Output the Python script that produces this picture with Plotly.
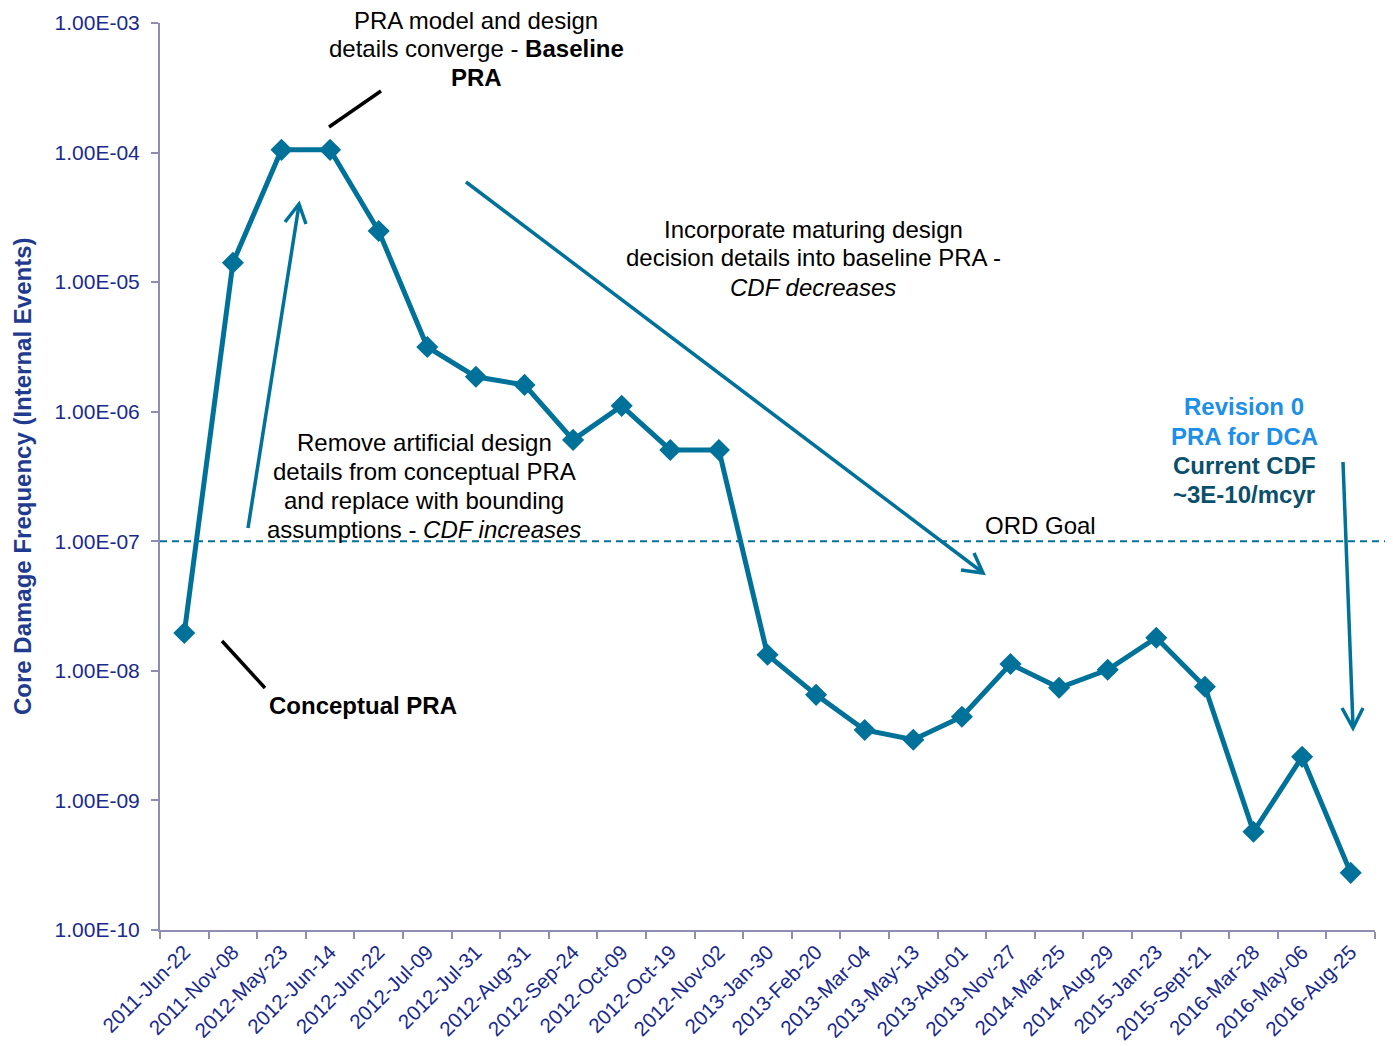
import plotly.graph_objects as go
import math

dates = ["2011-Jun-22", "2011-Nov-08", "2012-May-23", "2012-Jun-14", "2012-Jun-22",
         "2012-Jul-09", "2012-Jul-31", "2012-Aug-31", "2012-Sep-24", "2012-Oct-09",
         "2012-Oct-19", "2012-Nov-02", "2013-Jan-30", "2013-Feb-20", "2013-Mar-04",
         "2013-May-13", "2013-Aug-01", "2013-Nov-27", "2014-Mar-25", "2014-Aug-29",
         "2015-Jan-23", "2015-Sept-21", "2016-Mar-28", "2016-May-06", "2016-Aug-25"]
cdf = [1.96e-8, 1.41e-5, 1.05e-4, 1.05e-4, 2.48e-5,
       3.16e-6, 1.86e-6, 1.61e-6, 6.06e-7, 1.11e-6,
       5.07e-7, 5.07e-7, 1.33e-8, 6.53e-9, 3.5e-9,
       2.94e-9, 4.42e-9, 1.13e-8, 7.4e-9, 1.02e-8,
       1.8e-8, 7.53e-9, 5.73e-10, 2.17e-9, 2.76e-10]
ytick_vals = [1e-10, 1e-9, 1e-8, 1e-7, 1e-6, 1e-5, 1e-4, 1e-3]
ytick_text = ["1.00E-10", "1.00E-09", "1.00E-08", "1.00E-07",
              "1.00E-06", "1.00E-05", "1.00E-04", "1.00E-03"]
ord_goal = 1e-7

# page has an 8px body margin; figure is sized to fit exactly
OFF = 8
W, H = 1393 - OFF, 1046 - OFF
PL, PR, PT, PB = 160, 1375, 23, 930          # plot area in page pixels
ML, MT = PL - OFF, PT - OFF
MR, MB = W - (PR - OFF), H - (PB - OFF)
PW, PH = PR - PL, PB - PT

def px(x):
    return (x - PL) / PW

def py(y):
    return (PB - y) / PH

TEAL = "#00729A"
NAVY = "#1A2A8C"
AXC = "#8E8EB4"
FONT = "Liberation Sans, Arial, sans-serif"

fig = go.Figure()
fig.add_trace(go.Scatter(
    x=dates, y=cdf, mode="lines+markers",
    line=dict(color=TEAL, width=5),
    marker=dict(symbol="diamond", size=17, color=TEAL),
    showlegend=False, hoverinfo="x+y"))

shapes = []
# ORD goal dashed line
gy = (math.log10(ord_goal) + 10) / 7
shapes.append(dict(type="line", xref="paper", yref="paper", x0=0, x1=px(1392),
                   y0=gy, y1=gy, line=dict(color=TEAL, width=2, dash="7px,5px")))

def seg(x0, y0, x1, y1, color, width):
    shapes.append(dict(type="line", xref="paper", yref="paper",
                       x0=px(x0), y0=py(y0), x1=px(x1), y1=py(y1),
                       line=dict(color=color, width=width)))

def vhead(a, tip, b, color, width):
    path = "M {} {} L {} {} L {} {}".format(px(a[0]), py(a[1]), px(tip[0]), py(tip[1]),
                                            px(b[0]), py(b[1]))
    shapes.append(dict(type="path", xref="paper", yref="paper", path=path,
                       line=dict(color=color, width=width)))

# up arrow
seg(248, 528, 299, 205, TEAL, 3.5)
vhead((285, 222), (299, 204), (306, 224), TEAL, 3.5)
# diagonal arrow
seg(466, 182, 982, 572, TEAL, 3.5)
vhead((961, 570), (983, 573), (974, 553), TEAL, 3.5)
# right vertical arrow
seg(1343, 462, 1353, 726, TEAL, 3.5)
vhead((1342, 708), (1353, 728), (1363, 708), TEAL, 3.5)
# black leader lines
seg(329, 127, 381, 91, "black", 3.5)
seg(222, 641, 265, 688, "black", 3.5)

ann = []
def text(x, y, t, size=24, color="black", **kw):
    ann.append(dict(xref="paper", yref="paper", x=px(x), y=py(y), text=t,
                    showarrow=False, xanchor="center", yanchor="middle",
                    font=dict(family=FONT, size=size, color=color), align="center", **kw))

def block(x, y0, lines, step=29, **kw):
    for i, t in enumerate(lines):
        text(x, y0 + i * step, t, **kw)

block(476, 20, ["PRA model and design", "details converge - <b>Baseline</b>", "<b>PRA</b>"],
      step=28.5)
block(813, 229, ["Incorporate maturing design", "decision details into baseline PRA -",
                 "<i>CDF decreases</i>"])
block(424, 442, ["Remove artificial design", "details from conceptual PRA",
                 "and replace with bounding", "assumptions - <i>CDF increases</i>"])
text(363, 705, "<b>Conceptual PRA</b>")
text(1040, 525, "ORD Goal")
block(1244, 407, ["<b>Revision 0</b>", "<b>PRA for DCA</b>"], color="#1E8FE6")
block(1244, 465, ["<b>Current CDF</b>", "<b>~3E-10/mcyr</b>"], color="#0B4F6C")
text(22, 477, "<b>Core Damage Frequency (Internal Events)</b>", size=24, color="#1F3B8F",
     textangle=-90)

fig.update_layout(
    width=W, height=H,
    margin=dict(l=ML, r=MR, t=MT, b=MB, autoexpand=False),
    plot_bgcolor="white", paper_bgcolor="white",
    font=dict(family=FONT, color=NAVY),
    shapes=shapes, annotations=ann,
    xaxis=dict(type="category", range=[-0.5, len(dates) - 0.5], tickangle=-45,
               tickson="boundaries", ticks="outside", ticklen=7, tickwidth=2,
               tickcolor=AXC, showline=True, linecolor=AXC, linewidth=2,
               showgrid=False, zeroline=False, tickfont=dict(size=20.5, color=NAVY),
               automargin=False),
    yaxis=dict(type="log", range=[-10, -3], tickvals=ytick_vals, ticktext=ytick_text,
               ticks="outside", ticklen=7, tickwidth=2, tickcolor=AXC,
               showline=True, linecolor=AXC, linewidth=2, showgrid=False,
               zeroline=False, tickfont=dict(size=21, color=NAVY), automargin=False,
               ticklabelstandoff=7),
)

fig.write_html("out.html")
